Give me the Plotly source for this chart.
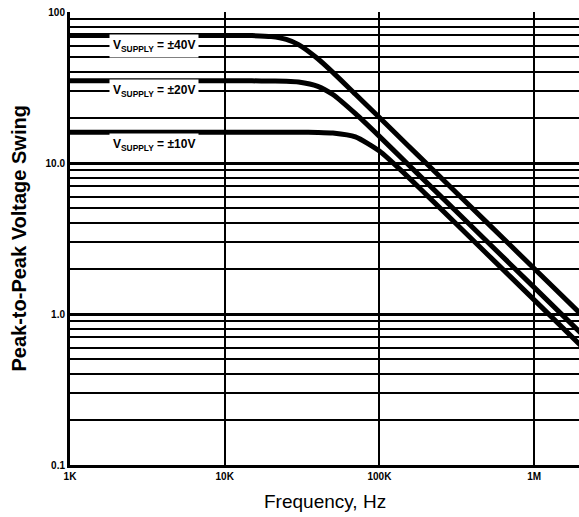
import numpy as np
import plotly.graph_objects as go

# Frequency points (Hz)
freq = [1e3, 2e3, 5e3, 1e4, 1.5e4, 2e4, 2.5e4, 3e4, 4e4, 5e4, 7e4, 1e5, 1.5e5, 2e5, 5e5, 1e6, 2e6]

# Peak-to-peak voltage swing
swing_40v = [70, 70, 70, 70, 69.8, 68.7, 65.8, 60.8, 49.0, 39.8, 28.5, 20.0, 13.3, 10.0, 4.0, 2.0, 1.0]
swing_20v = [35, 35, 35, 35, 35.0, 34.9, 34.8, 34.4, 32.2, 28.4, 21.2, 15.0, 10.0, 7.5, 3.0, 1.5, 0.75]
swing_10v = [16, 16, 16, 16, 16.0, 16.0, 16.0, 16.0, 15.95, 15.8, 14.9, 12.0, 8.25, 6.2, 2.48, 1.24, 0.62]

series = [swing_40v, swing_20v, swing_10v]

# Curve labels
label_text = ["V<sub>SUPPLY</sub> = ±40V", "V<sub>SUPPLY</sub> = ±20V", "V<sub>SUPPLY</sub> = ±10V"]
label_freq = [3.5e3, 3.5e3, 3.5e3]
label_volts = [60, 30, 13.1]

# Axis ticks
x_tickvals = [1e3, 1e4, 1e5, 1e6]
x_ticktext = ["1K", "10K", "100K", "1M"]
y_tickvals = [0.1, 1, 10, 100]
y_ticktext = ["0.1", "1.0", "10.0", "100"]
y_decades = [0.1, 1, 10]
y_digits = [2, 3, 4, 5, 6, 7, 8, 9]

x_title = "Frequency, Hz"
y_title = "Peak-to-Peak Voltage Swing"

minor_y = [d * k for d in y_decades for k in y_digits]

FONT = "Liberation Sans, Arial, Helvetica, sans-serif"

W, H = 579, 517
ML, MR, MT, MB = 70, 0, 12, 52
PW, PH = W - ML - MR, H - MT - MB

fig = go.Figure()
for s in series:
    fig.add_trace(go.Scatter(
        x=freq, y=s, mode="lines",
        line=dict(color="black", width=5, shape="spline", smoothing=0.6),
        showlegend=False, hoverinfo="skip",
    ))

for t, fx, vy in zip(label_text, label_freq, label_volts):
    fig.add_annotation(
        x=np.log10(fx), y=np.log10(vy), xref="x", yref="y",
        text=t, showarrow=False,
        font=dict(family=FONT, size=12, color="black", weight="bold"),
        bgcolor="white", borderpad=3,
    )

# Axis titles
fig.add_annotation(
    x=-(ML - 18) / PW, y=0.5, xref="paper", yref="paper",
    xanchor="center", yanchor="middle",
    text=y_title, textangle=-90, showarrow=False,
    font=dict(family=FONT, size=20, color="black", weight="bold"),
)
fig.add_annotation(
    x=0.5, y=-36 / PH, xref="paper", yref="paper",
    xanchor="center", yanchor="middle",
    text=x_title, showarrow=False,
    font=dict(family=FONT, size=19, color="black"),
)

fig.update_layout(
    width=W, height=H, autosize=False,
    margin=dict(l=ML, r=MR, t=MT, b=MB),
    paper_bgcolor="white", plot_bgcolor="white",
    font=dict(family=FONT, color="black"),
    xaxis=dict(
        type="log", range=[3, np.log10(1.95e6)],
        tickmode="array", tickvals=x_tickvals, ticktext=x_ticktext,
        tickfont=dict(family=FONT, size=10, weight="bold"),
        ticks="", showgrid=True, gridcolor="black", gridwidth=2,
        showline=True, linecolor="black", linewidth=3, mirror=False,
        zeroline=False, automargin=False, ticklabeloverflow="allow",
    ),
    yaxis=dict(
        type="log", range=[-1, 2],
        tickmode="array", tickvals=y_tickvals, ticktext=y_ticktext,
        tickfont=dict(family=FONT, size=10, weight="bold"),
        ticks="", showgrid=True, gridcolor="black", gridwidth=2.5,
        minor=dict(tickmode="array", tickvals=minor_y, showgrid=True,
                   gridcolor="black", gridwidth=2, ticks=""),
        showline=True, linecolor="black", linewidth=3,
        zeroline=False, automargin=False, ticklabeloverflow="allow",
    ),
)

fig.write_html(
    "out.html",
    config={"displayModeBar": False},
    post_script="document.body.style.margin='0';document.body.style.overflow='hidden';",
)
